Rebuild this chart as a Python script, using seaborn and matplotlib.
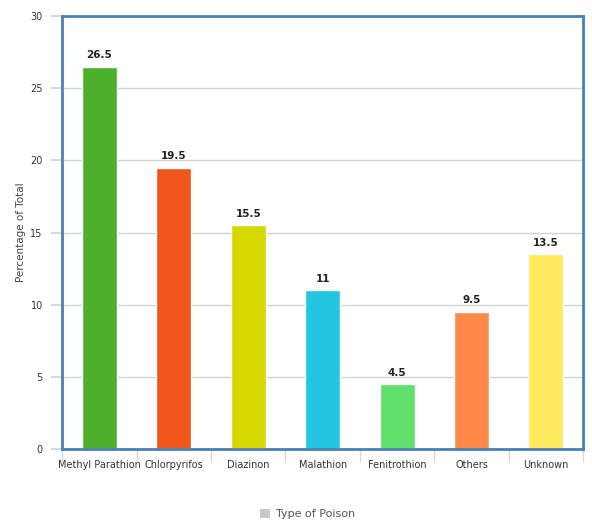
import matplotlib
matplotlib.use("Agg")
import matplotlib.pyplot as plt
import seaborn as sns
import pandas as pd
from matplotlib.patches import Patch

categories = ["Methyl Parathion", "Chlorpyrifos", "Diazinon", "Malathion",
              "Fenitrothion", "Others", "Unknown"]
values = [26.5, 19.5, 15.5, 11, 4.5, 9.5, 13.5]
value_labels = ["26.5", "19.5", "15.5", "11", "4.5", "9.5", "13.5"]
colors = ["#4cb02c", "#f0561c", "#d6d800", "#22c6e0", "#60e06a", "#ff8a48", "#ffe95c"]
yticks = [0, 5, 10, 15, 20, 25, 30]

sns.set_theme(style="white")
plt.rcParams['font.family'] = ['Liberation Sans Narrow', 'DejaVu Sans']

df = pd.DataFrame({"cat": categories, "val": values})
fig = plt.figure(figsize=(5.92, 5.23), dpi=100)
ax = fig.add_axes([0.105, 0.1415, 0.88, 0.8275])
sns.barplot(data=df, x="cat", y="val", hue="cat", palette=colors, dodge=False,
            width=0.47, legend=False, ax=ax, saturation=1)

ax.set_ylim(0, 30)
ax.set_xlim(-0.5, len(categories) - 0.5)
ax.set_yticks(yticks)
ax.set_yticklabels([str(t) for t in yticks], fontsize=7, color="#333333")
ax.yaxis.grid(True, color="#cfd3d8", linewidth=1)
ax.set_axisbelow(True)
ax.tick_params(axis="y", length=8, color="#cfd3d8", pad=6, left=True)
ax.tick_params(axis="x", length=0, pad=8, labelsize=7, labelcolor="#333333")
# category boundary ticks
ax.set_xticks(range(len(categories)))
ax.set_xticks([i - 0.5 for i in range(len(categories) + 1)], minor=True)
ax.tick_params(axis="x", which="minor", length=9, color="#d8d8d8", bottom=True)
for sp in ax.spines.values():
    sp.set_color("#4a80b8")
    sp.set_linewidth(2)

for i, (v, lab) in enumerate(zip(values, value_labels)):
    ax.text(i, v + 0.45, lab, ha="center", va="bottom", fontsize=7.5,
            fontweight="bold", color="#222222")

ax.set_xlabel("")
ax.set_ylabel("Percentage of Total", fontsize=7.5, color="#444444", labelpad=3)

fig.legend(handles=[Patch(facecolor="#c8c8c8", edgecolor="none")],
           labels=["Type of Poison"], loc="center", bbox_to_anchor=(0.52, 0.017),
           frameon=False, fontsize=8, labelcolor="#555555",
           handlelength=0.9, handleheight=0.9, handletextpad=0.5)

fig.savefig("out.png", dpi=100)
